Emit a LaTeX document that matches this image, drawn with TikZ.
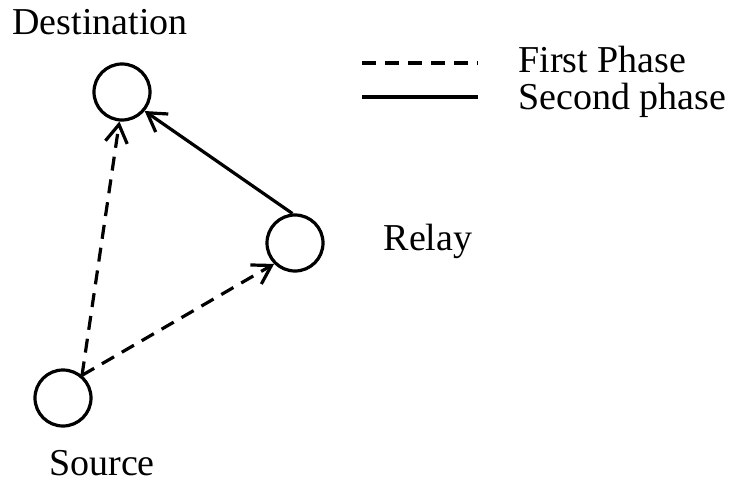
\documentclass[tikz,border=0pt]{standalone}
\usepackage{fontspec}
\setmainfont{Liberation Serif}
\usepackage{tikz}
\usetikzlibrary{positioning, arrows.meta}

\begin{document}
\begin{tikzpicture}[
    x=0.5pt, y=-0.5pt,
    >={Straight Barb[length=9pt, width=11pt]},
    station/.style={draw, circle, line width=1.6pt, minimum size=28pt, inner sep=0pt},
    lbl/.style={font=\fontsize{19}{21}\selectfont, inner sep=0pt},
    phaseone/.style={->, line width=1.6pt, dash pattern=on 7pt off 4.5pt},
    phasetwo/.style={->, line width=1.6pt},
]
\useasboundingbox (0,0) rectangle (734,481);

% Stations
\node[station] (dst) at (122,92) {};
\node[station] (rly) at (295,243) {};
\node[station] (src) at (63,398) {};

% Station labels
\node[lbl] (dstlbl) at (100,22) {Destination};
\node[lbl] (rlylbl) at (428,241) {Relay};
\node[lbl] (srclbl) at (102,463) {Source};

% First phase: source broadcasts
\draw[phaseone] (src.50) -- (dst.-95);
\draw[phaseone] (src.50) -- (rly.225);

% Second phase: relay forwards
\draw[phasetwo] (rly.95) -- (dst.-40);

% Legend
\coordinate (k1a) at (362,63);
\coordinate (k1b) at (478,63);
\coordinate (k2a) at (362,97);
\coordinate (k2b) at (478,97);
\draw[line width=1.6pt, dash pattern=on 7pt off 4.5pt] (k1a) -- (k1b);
\draw[line width=1.6pt] (k2a) -- (k2b);
\node[lbl, anchor=west] (key1) at (518,60) {First Phase};
\node[lbl, anchor=west] (key2) at (518,100) {Second phase};

\end{tikzpicture}
\end{document}
